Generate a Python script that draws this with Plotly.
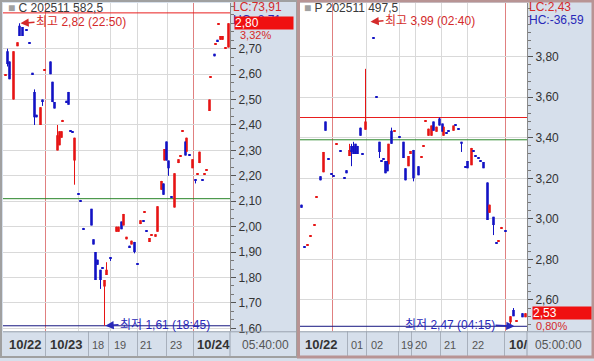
import plotly.graph_objects as go

# ---------------- Left panel: C 202511 582.5 ----------------
c_slot = [5, 7, 9, 13, 17, 19, 22, 26, 29, 32,
          34, 36, 40, 42, 44, 50, 52, 54, 57, 59,
          61, 62, 66, 68, 70, 72, 74, 78, 80, 83,
          91, 93, 95, 97, 100, 102, 104, 106, 110, 116,
          118, 121, 123, 126, 129, 131, 134, 137, 140, 143,
          144, 146, 149, 151, 155, 157, 161, 163, 164, 166,
          168, 171, 174, 178, 180, 182, 185, 186, 189, 192,
          195, 197, 199, 202, 204, 206, 209, 210, 214, 215,
          217, 218, 220, 222, 225, 228]
c_open = [2.595, 2.69, 2.65, 2.50, 2.71, 2.79, 2.785, 2.775, 2.725, 2.605,
          2.53, 2.44, 2.40, 2.50, 2.615, 2.65, 2.57, 2.49, 2.30, 2.32,
          2.35, 2.415, 2.495, 2.53, 2.38, 2.375, 2.26, 2.13, 2.105, 1.995,
          2.07, 1.95, 1.90, 1.87, 1.83, 1.84, 1.765, 1.81, 1.88, 1.98,
          1.98, 2.02, 2.005, 1.95, 1.925, 1.93, 1.94, 1.855, 2.01, 2.025,
          2.055, 1.985, 1.94, 1.965, 1.96, 1.98, 2.145, 2.17, 2.26, 2.335,
          2.26, 2.12, 2.075, 2.25, 2.275, 2.375, 2.335, 2.295, 2.285, 2.23,
          2.185, 2.205, 2.25, 2.185, 2.205, 2.22, 2.455, 2.585, 2.68, 2.715,
          2.735, 2.795, 2.735, 2.735, 2.70, 2.705]
c_close = [2.60, 2.64, 2.58, 2.69, 2.725, 2.75, 2.75, 2.77, 2.72, 2.60,
           2.43, 2.43, 2.47, 2.49, 2.62, 2.60, 2.49, 2.465, 2.36, 2.375,
           2.375, 2.42, 2.49, 2.48, 2.375, 2.37, 2.35, 2.125, 2.10, 1.99,
           2.005, 1.93, 1.79, 1.85, 1.79, 1.835, 1.79, 1.83, 1.875, 2.00,
           2.00, 1.99, 2.05, 1.96, 1.92, 1.945, 1.90, 1.85, 2.025, 2.02,
           2.06, 1.98, 1.955, 1.97, 1.97, 2.08, 2.18, 2.125, 2.305, 2.26,
           2.23, 2.115, 2.21, 2.265, 2.28, 2.38, 2.28, 2.35, 2.28, 2.265,
           2.18, 2.21, 2.295, 2.18, 2.21, 2.225, 2.50, 2.59, 2.67, 2.72,
           2.73, 2.80, 2.75, 2.75, 2.705, 2.80]
c_high = [2.60, 2.70, 2.65, 2.69, 2.725, 2.80, 2.785, 2.775, 2.725, 2.605,
          2.54, 2.44, 2.47, 2.50, 2.62, 2.65, 2.57, 2.49, 2.40, 2.375,
          2.375, 2.42, 2.495, 2.53, 2.38, 2.375, 2.35, 2.13, 2.105, 1.995,
          2.07, 1.95, 1.90, 1.87, 1.83, 1.84, 1.79, 1.86, 1.88, 2.00,
          2.00, 2.02, 2.05, 1.96, 1.925, 1.945, 1.94, 1.855, 2.025, 2.025,
          2.06, 1.985, 1.955, 1.97, 1.97, 2.08, 2.18, 2.17, 2.305, 2.335,
          2.26, 2.12, 2.21, 2.265, 2.28, 2.38, 2.335, 2.35, 2.285, 2.265,
          2.185, 2.21, 2.295, 2.185, 2.21, 2.225, 2.50, 2.59, 2.68, 2.72,
          2.735, 2.80, 2.75, 2.75, 2.705, 2.80]
c_low = [2.595, 2.63, 2.58, 2.50, 2.71, 2.75, 2.75, 2.77, 2.72, 2.60,
         2.40, 2.43, 2.40, 2.475, 2.615, 2.60, 2.49, 2.465, 2.30, 2.32,
         2.35, 2.415, 2.49, 2.48, 2.375, 2.37, 2.165, 2.125, 2.10, 1.99,
         2.005, 1.93, 1.79, 1.85, 1.755, 1.835, 1.61, 1.81, 1.865, 1.98,
         1.98, 1.99, 2.005, 1.95, 1.92, 1.93, 1.895, 1.85, 2.01, 2.02,
         2.055, 1.98, 1.94, 1.965, 1.96, 1.98, 2.145, 2.125, 2.26, 2.26,
         2.20, 2.115, 2.075, 2.25, 2.275, 2.375, 2.28, 2.295, 2.28, 2.23,
         2.17, 2.205, 2.25, 2.18, 2.205, 2.22, 2.455, 2.585, 2.67, 2.715,
         2.73, 2.795, 2.735, 2.735, 2.70, 2.705]
c_yticks = [1.6, 1.7, 1.8, 1.9, 2.0, 2.1, 2.2, 2.3, 2.4, 2.5, 2.6, 2.7]
c_ref_red = 2.841
c_ref_green = 2.11
c_low_val = 1.61
c_high_mark = (20, 2.80)
c_low_mark = (105, 1.61)
c_title = "C 202511 582,5"
c_high_text = "최고 2,82 (22:50)"
c_low_text = "최저 1,61 (18:45)"
c_lc, c_hc, c_last, c_pct = "LC:73,91", "HC:-8,71", "2,80", "3,32%"
c_xlabels = ["10/22", "10/23", "18", "19", "21", "23", "10/24"]
c_xlabel_slot = [7, 48, 90, 112, 138, 168, 195]
c_xlabel_bold = [True, True, False, False, False, False, True]
c_xsep_slot = [45, 88, 108, 137, 166, 193]
c_grid_slot = [78, 110, 137, 167]
c_day_slot = [45, 193]
c_time = "05:40:00"

# ---------------- Right panel: P 202511 497.5 ----------------
p_slot = [301, 304, 307, 310, 314, 316, 320, 323, 325, 328,
          331, 333, 336, 340, 344, 346, 349, 351, 353, 355,
          357, 360, 362, 365, 373, 376, 379, 381, 383, 385,
          387, 388, 391, 394, 399, 403, 405, 408, 410, 413,
          418, 421, 423, 425, 428, 431, 433, 436, 439, 442,
          443, 446, 448, 453, 455, 458, 461, 465, 467, 471,
          473, 475, 478, 480, 483, 487, 489, 493, 496, 498,
          501, 505, 510, 513, 516, 522, 525]
p_open = [3.07, 2.865, 2.87, 2.915, 2.965, 3.105, 3.21, 3.23, 3.48, 3.30,
          3.225, 3.215, 3.365, 3.335, 3.205, 3.24, 3.31, 3.36, 3.36, 3.37,
          3.36, 3.45, 3.325, 3.44, 3.895, 3.605, 3.38, 3.29, 3.30, 3.285,
          3.285, 3.27, 3.435, 3.43, 3.405, 3.38, 3.25, 3.26, 3.32, 3.34,
          3.26, 3.305, 3.355, 3.48, 3.41, 3.41, 3.48, 3.43, 3.495, 3.47,
          3.41, 3.425, 3.435, 3.435, 3.465, 3.445, 3.38, 3.26, 3.285, 3.265,
          3.335, 3.315, 3.305, 3.29, 3.28, 3.18, 3.03, 3.01, 2.885, 2.89,
          2.955, 2.945, 2.49, 2.55, 2.495, 2.535, 2.515]
p_close = [3.055, 2.86, 2.875, 2.92, 2.97, 3.11, 3.19, 3.33, 3.435, 3.295,
           3.22, 3.21, 3.37, 3.33, 3.20, 3.225, 3.34, 3.33, 3.32, 3.32,
           3.32, 3.41, 3.32, 3.48, 3.89, 3.60, 3.33, 3.285, 3.295, 3.225,
           3.235, 3.37, 3.37, 3.435, 3.40, 3.30, 3.19, 3.31, 3.335, 3.20,
           3.215, 3.31, 3.36, 3.485, 3.445, 3.46, 3.435, 3.455, 3.46, 3.43,
           3.455, 3.42, 3.43, 3.46, 3.46, 3.44, 3.37, 3.255, 3.25, 3.35,
           3.33, 3.31, 3.30, 3.285, 3.25, 2.995, 3.07, 2.97, 2.88, 2.895,
           2.96, 2.94, 2.52, 2.52, 2.50, 2.515, 2.535]
p_high = [3.07, 2.865, 2.875, 2.92, 2.97, 3.11, 3.21, 3.33, 3.48, 3.30,
          3.225, 3.215, 3.37, 3.335, 3.205, 3.24, 3.37, 3.37, 3.38, 3.37,
          3.36, 3.45, 3.325, 3.74, 3.895, 3.605, 3.38, 3.29, 3.30, 3.285,
          3.285, 3.37, 3.45, 3.435, 3.405, 3.38, 3.25, 3.31, 3.335, 3.34,
          3.26, 3.31, 3.36, 3.485, 3.445, 3.46, 3.48, 3.455, 3.50, 3.47,
          3.455, 3.425, 3.435, 3.46, 3.465, 3.445, 3.38, 3.26, 3.285, 3.35,
          3.335, 3.315, 3.305, 3.29, 3.28, 3.18, 3.07, 3.01, 2.885, 2.895,
          2.96, 2.945, 2.52, 2.56, 2.50, 2.535, 2.535]
p_low = [3.055, 2.86, 2.87, 2.915, 2.965, 3.105, 3.19, 3.23, 3.435, 3.295,
         3.22, 3.21, 3.365, 3.33, 3.20, 3.225, 3.31, 3.26, 3.32, 3.32,
         3.32, 3.41, 3.32, 3.44, 3.89, 3.60, 3.30, 3.285, 3.295, 3.225,
         3.235, 3.27, 3.37, 3.43, 3.40, 3.30, 3.19, 3.26, 3.32, 3.185,
         3.215, 3.305, 3.355, 3.48, 3.41, 3.41, 3.435, 3.43, 3.46, 3.43,
         3.41, 3.42, 3.43, 3.435, 3.46, 3.44, 3.33, 3.255, 3.25, 3.265,
         3.33, 3.31, 3.30, 3.285, 3.25, 2.995, 3.03, 2.92, 2.88, 2.89,
         2.955, 2.94, 2.48, 2.52, 2.495, 2.515, 2.515]
p_yticks = [2.6, 2.8, 3.0, 3.2, 3.4, 3.6, 3.8]
p_ref_red = 3.50
p_ref_green = 3.39
p_low_val = 2.47
p_high_mark = (370, 3.972)
p_low_mark = (514, 2.47)
p_title = "P 202511 497,5"
p_high_text = "최고 3,99 (02:40)"
p_low_text = "최저 2,47 (04:15)"
p_lc, p_hc, p_last, p_pct = "LC:2,43", "HC:-36,59", "2,53", "0,80%"
p_xlabels = ["10/22", "01", "02", "19", "20", "21", "22", "10/"]
p_xlabel_slot = [303, 349, 369, 399, 413, 442, 470, 507]
p_xlabel_bold = [True, False, False, False, False, False, False, True]
p_xsep_slot = [347, 366, 398, 411, 440, 467, 504]
p_grid_slot = [366, 399, 415, 441, 467]
p_day_slot = [332, 505]
p_time = "05:00:00"

# ---------------- styling ----------------
W, H = 594, 361
RED = "#E61414"
BLUE = "#1212C4"
TXT_RED = "#D42A2A"
TXT_BLUE = "#2828B8"
NAVY = "#161680"
GREEN = "#2A862A"
REFRED = "#E81E1E"
GRID = "#D9D9D9"
DAYRED = "#E08080"
BG = "#D6DFEB"
FONT = "Liberation Sans, Noto Sans CJK KR, sans-serif"


def px(x):
    return x / W


def py(y):
    return 1 - y / H


fig = go.Figure()


def add_candles(slots, o, h, l, c, xa, ya, minh):
    cols = [RED if cc >= oo else BLUE for oo, cc in zip(o, c)]
    base = [min(a, b) for a, b in zip(o, c)]
    hgt = [max(abs(b - a), minh) for a, b in zip(o, c)]
    for col in (RED, BLUE):
        xs, ys = [], []
        for s, oo, hh, ll, cc in zip(slots, o, h, l, c):
            if (RED if cc >= oo else BLUE) != col:
                continue
            if hh - ll > 1e-9:
                xs += [s, s, None]
                ys += [ll, hh, None]
        fig.add_trace(go.Scatter(x=xs, y=ys, mode="lines", line=dict(color=col, width=1),
                                 xaxis=xa, yaxis=ya, hoverinfo="skip", showlegend=False))
    fig.add_trace(go.Bar(x=slots, y=hgt, base=base, width=2.6,
                         marker=dict(color=cols, line=dict(width=0)),
                         xaxis=xa, yaxis=ya, hoverinfo="skip", showlegend=False))


add_candles(c_slot, c_open, c_high, c_low, c_close, "x", "y", 0.004)
add_candles(p_slot, p_open, p_high, p_low, p_close, "x2", "y2", 0.005)

ydom = [py(335), py(3)]


def yaxis_cfg(anchor, rng, ticks, minor_dtick):
    return dict(domain=ydom, range=rng, side="right", anchor=anchor,
                showline=True, linecolor="#8A8A8A", linewidth=1,
                ticks="outside", ticklen=5, tickcolor="#555555",
                tickmode="array", tickvals=ticks, tickformat=".2f",
                showgrid=True, gridcolor=GRID, gridwidth=1, zeroline=False,
                tickfont=dict(family=FONT, size=12, color="#333333"),
                minor=dict(tickmode="linear", tick0=ticks[0], dtick=minor_dtick,
                           ticks="outside", ticklen=3, tickcolor="#777777",
                           showgrid=False),
                fixedrange=True)


shapes = []
annotations = []


def vline_data(xref, yref, x, color):
    shapes.append(dict(type="line", xref=xref, yref=yref + " domain", x0=x, x1=x,
                       y0=0, y1=1, line=dict(color=color, width=1), layer="below"))


def hline_data(xref, yref, y, color):
    shapes.append(dict(type="line", xref=xref + " domain", yref=yref, x0=0, x1=1,
                       y0=y, y1=y, line=dict(color=color, width=1), layer="below"))


def strip_sep(xref, x):
    shapes.append(dict(type="line", xref=xref, yref="paper", x0=x, x1=x,
                       y0=0, y1=py(335), line=dict(color="#A8B0BC", width=1), layer="above"))


def label(xref, x, y, text, color="#333333", size=12, bold=False, anchor="left", **kw):
    t = f"<b>{text}</b>" if bold else text
    annotations.append(dict(xref=xref, yref="paper", x=x, y=py(y), text=t, showarrow=False,
                            xanchor=anchor, yanchor="middle",
                            font=dict(family=FONT, size=size, color=color), **kw))


for xa, ya, grid, days, seps, labs, lpos, lbold, red, green, low in (
        ("x", "y", c_grid_slot, c_day_slot, c_xsep_slot, c_xlabels, c_xlabel_slot, c_xlabel_bold,
         c_ref_red, c_ref_green, c_low_val),
        ("x2", "y2", p_grid_slot, p_day_slot, p_xsep_slot, p_xlabels, p_xlabel_slot, p_xlabel_bold,
         p_ref_red, p_ref_green, p_low_val)):
    for g in grid:
        vline_data(xa, ya, g, GRID)
    for d in days:
        vline_data(xa, ya, d, DAYRED)
    hline_data(xa, ya, red, REFRED)
    hline_data(xa, ya, green, GREEN)
    hline_data(xa, ya, low, NAVY)
    for s in seps:
        strip_sep(xa, s)
    for t, p, b in zip(labs, lpos, lbold):
        label(xa, p, 348.5, t, color="#333333" if b else "#555555", size=13 if b else 11, bold=b,
              borderpad=0)

# strip borders and panel frames
for x0, x1, axx in ((3, 297, 230), (299, 592, 527)):
    shapes.append(dict(type="line", xref="paper", yref="paper", x0=px(x0), x1=px(x1),
                       y0=py(335.5), y1=py(335.5), line=dict(color="#9AA2AE", width=1), layer="above"))
    shapes.append(dict(type="line", xref="paper", yref="paper", x0=px(axx), x1=px(axx),
                       y0=0, y1=py(335), line=dict(color="#9AA2AE", width=1), layer="above"))
shapes.append(dict(type="rect", xref="paper", yref="paper", x0=px(1), x1=px(297), y0=0, y1=py(1),
                   line=dict(color="#A0A0A0", width=2), layer="above"))
shapes.append(dict(type="rect", xref="paper", yref="paper", x0=px(298.5), x1=px(593), y0=0, y1=py(1),
                   line=dict(color="#B89494", width=3), layer="above"))

# titles
label("paper", px(6), 8, f"<span style='color:#A0A0A0'>■</span> {c_title}", color="#3A3A3A", size=12)
label("paper", px(302), 8, f"<span style='color:#A0A0A0'>■</span> {p_title}", color="#3A3A3A", size=12)

# axis-area info texts
label("paper", px(232), 7, c_lc, color=TXT_RED, borderpad=0)
label("paper", px(232), 20, c_hc, color=TXT_BLUE, borderpad=0)
label("paper", px(234), 23.5, c_last, color="white", width=58, height=12, bgcolor="#F01010",
      align="left", borderpad=0)
label("paper", px(239), 35.5, c_pct, color=TXT_RED, size=11, borderpad=0)
label("paper", px(528), 7, p_lc, color=TXT_RED, borderpad=0)
label("paper", px(528), 20, p_hc, color=TXT_BLUE, borderpad=0)
label("paper", px(532), 316.5, p_last, color="white", width=58, height=12, bgcolor="#F01010",
      align="left", borderpad=0)
label("paper", px(535), 329.5, p_pct, color=TXT_RED, size=11, borderpad=0)

# time labels
label("paper", px(240), 348.5, c_time, color="#555555")
label("paper", px(533), 348.5, p_time, color="#555555")


def arrow_note(xref, yref, pt, text, color, ax, anchor):
    annotations.append(dict(xref=xref, yref=yref, x=pt[0], y=pt[1], text=text, showarrow=True,
                            ax=ax, ay=-1, xanchor=anchor, yanchor="middle",
                            arrowhead=2, arrowsize=1.1, arrowwidth=1.5, arrowcolor=color,
                            font=dict(family=FONT, size=12, color=color), borderpad=0))


arrow_note("x", "y", c_high_mark, c_high_text, TXT_RED, 14, "left")
arrow_note("x", "y", c_low_mark, c_low_text, TXT_BLUE, 13, "left")
arrow_note("x2", "y2", p_high_mark, p_high_text, TXT_RED, 13, "left")
arrow_note("x2", "y2", p_low_mark, p_low_text, TXT_BLUE, -19, "right")

fig.update_layout(
    width=W, height=H, margin=dict(l=0, r=0, t=0, b=0),
    paper_bgcolor=BG, plot_bgcolor="white", separators=",.",
    barmode="overlay", showlegend=False, hovermode=False,
    xaxis=dict(domain=[px(3), px(230)], range=[2.5, 229.5], visible=False, fixedrange=True),
    xaxis2=dict(domain=[px(299), px(527)], range=[298.5, 526.5], visible=False, fixedrange=True),
    yaxis=yaxis_cfg("x", [1.5883, 2.880], c_yticks, 0.1 / 3),
    yaxis2=yaxis_cfg("x2", [2.4454, 4.065], p_yticks, 0.04),
    shapes=shapes, annotations=annotations,
)

fig.write_html("out.html")
